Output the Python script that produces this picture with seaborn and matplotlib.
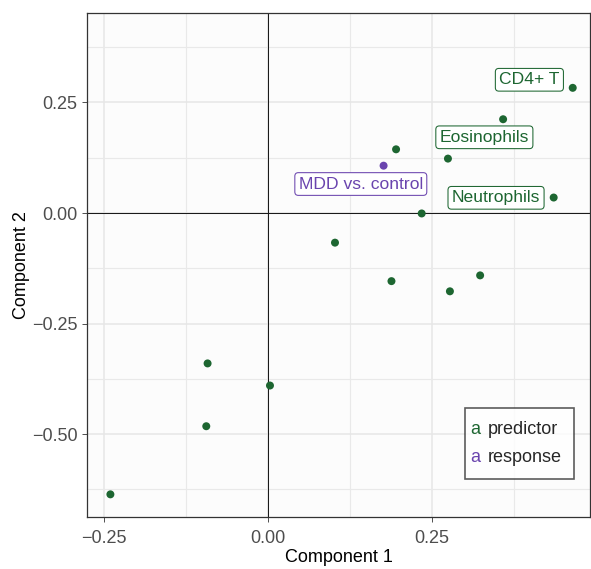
import pandas as pd
import numpy as np
import matplotlib.pyplot as plt
import seaborn as sns
from matplotlib.lines import Line2D
from matplotlib.text import Text
from matplotlib.legend_handler import HandlerBase
from matplotlib.ticker import MultipleLocator

# data
comp1 = [0.464, 0.358, 0.195, 0.176, 0.274, 0.435, 0.234, 0.102, 0.188, 0.323,
         0.277, -0.092, 0.003, -0.094, -0.240]
comp2 = [0.283, 0.212, 0.144, 0.107, 0.123, 0.035, -0.001, -0.067, -0.154, -0.141,
         -0.177, -0.340, -0.390, -0.482, -0.636]
kind = ["predictor"] * 3 + ["response"] + ["predictor"] * 11
names = ["CD4+ T", "Eosinophils", "", "MDD vs. control", "", "Neutrophils", "", "",
         "", "", "", "", "", "", ""]
# where the label boxes sit relative to their dot (points)
offsets = {"CD4+ T": (-31.2, 5.8), "Eosinophils": (-13.5, -13.0),
           "MDD vs. control": (-16.4, -13.2), "Neutrophils": (-41.5, -0.2)}

df = pd.DataFrame({"Component 1": comp1, "Component 2": comp2, "kind": kind, "name": names})
colors = {"predictor": "#1d6631", "response": "#6a44ae"}

sns.set_theme(style="whitegrid")
plt.rcParams['font.family'] = ['Liberation Sans', 'DejaVu Sans']


class LetterHandler(HandlerBase):
    # coloured "a" as the legend key, like ggplot's text keys
    def create_artists(self, legend, orig_handle, xdescent, ydescent, width, height, fontsize, trans):
        t = Text(-xdescent - 5.3, -ydescent, "a", color=orig_handle.get_color(),
                 fontsize=fontsize, ha="left", va="baseline", transform=trans,
                 family=['Liberation Sans'])
        return [t]


fig = plt.figure(figsize=(5.91, 5.69), dpi=100)
ax = fig.add_axes([0.1479, 0.0914, 0.8504, 0.885])
ax.set_facecolor("#fcfcfc")

ax.axhline(0, color="#1a1a1a", lw=0.75, zorder=1)
ax.axvline(0, color="#1a1a1a", lw=0.75, zorder=1)

sns.scatterplot(data=df, x="Component 1", y="Component 2", hue="kind", palette=colors,
                s=33, edgecolor="none", legend=False, ax=ax, zorder=3)

for _, r in df[df["name"] != ""].iterrows():
    c = colors[r["kind"]]
    ax.annotate(r["name"], (r["Component 1"], r["Component 2"]),
                xytext=offsets[r["name"]], textcoords="offset points",
                ha="center", va="center", fontsize=12.6, color=c, zorder=4,
                bbox=dict(boxstyle="round,pad=0.22,rounding_size=0.2", fc="white", ec=c, lw=0.75))

ax.set_xlim(-0.275, 0.4903)
ax.set_ylim(-0.6872, 0.4512)
ax.xaxis.set_major_locator(MultipleLocator(0.25))
ax.yaxis.set_major_locator(MultipleLocator(0.25))
ax.xaxis.set_minor_locator(MultipleLocator(0.125))
ax.yaxis.set_minor_locator(MultipleLocator(0.125))
ax.grid(which="major", color="#e6e6e6", lw=1.1)
ax.grid(which="minor", color="#e9e9e9", lw=0.85)
ax.set_axisbelow(True)
fmt = plt.FuncFormatter(lambda v, p: f"{v:.2f}".replace("-", "\u2212"))
ax.xaxis.set_major_formatter(fmt)
ax.yaxis.set_major_formatter(fmt)
ax.tick_params(axis="both", which="major", labelsize=13, labelcolor="#4d4d4d",
               length=3.5, color="#333333", bottom=True, left=True, width=0.6)
ax.tick_params(axis="x", which="major", pad=5.7)
ax.tick_params(axis="y", which="major", pad=3.5)
ax.tick_params(which="minor", length=0)
for sp in ax.spines.values():
    sp.set_color("#333333")
    sp.set_linewidth(0.9)
ax.set_xlabel("Component 1", fontsize=13, color="black", labelpad=1.4)
ax.set_ylabel("Component 2", fontsize=13, color="black", labelpad=1.5)

handles = [Line2D([], [], color=colors[k]) for k in colors]
leg = ax.legend(handles, list(colors), loc="lower right", bbox_to_anchor=(0.9684, 0.0755),
                borderaxespad=0, fontsize=13, frameon=True, fancybox=False,
                handlelength=0.3, handletextpad=0.25, borderpad=0.7, labelspacing=0.65,
                handler_map={Line2D: LetterHandler()})
leg.get_frame().set_edgecolor("#333333")
leg.get_frame().set_linewidth(1.2)
leg.get_frame().set_facecolor("white")

fig.savefig("out.png", dpi=100)
